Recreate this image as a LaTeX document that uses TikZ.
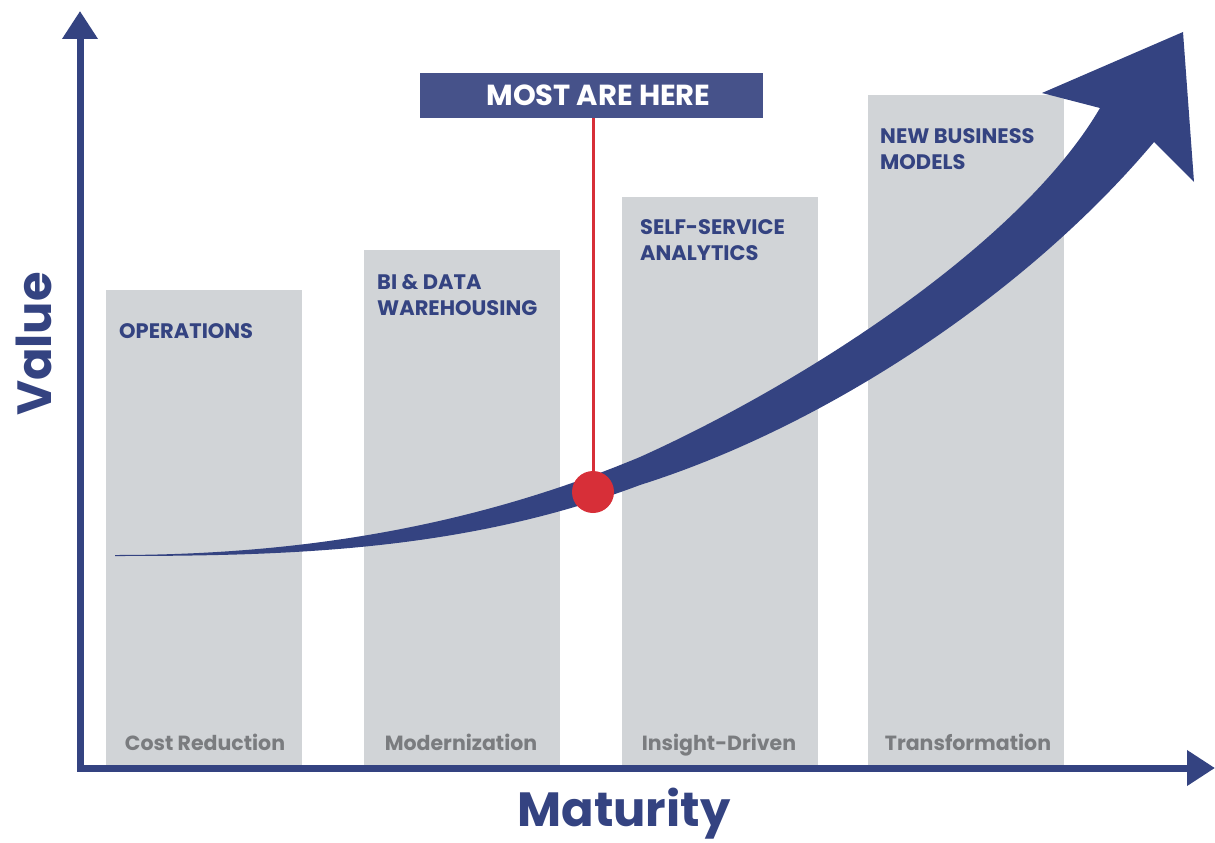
\documentclass[tikz,border=0pt]{standalone}
\usepackage{fontspec}
\setmainfont{Poppins}
\usetikzlibrary{arrows.meta,positioning}
\definecolor{navy}{HTML}{344381}
\definecolor{boxblue}{HTML}{46528A}
\definecolor{bargray}{HTML}{D1D4D7}
\definecolor{labelgray}{HTML}{7A7C7F}
\definecolor{dotred}{HTML}{D72F38}
\begin{document}
\begin{tikzpicture}[x=1pt,y=-1pt,
	bar/.style={fill=bargray, minimum width=196pt, anchor=south west, inner sep=0pt},
	title/.style={anchor=north west, align=left, text=navy, inner sep=0pt,
		font=\bfseries\fontsize{21}{26}\selectfont},
	stage/.style={anchor=base, text=labelgray, inner sep=0pt,
		font=\bfseries\fontsize{20.5}{24}\selectfont},
	axis/.style={navy, line width=7pt, line cap=rect, -{Triangle[length=28pt,width=34pt]}},
	big/.style={text=navy, inner sep=0pt, font=\bfseries\fontsize{48}{48}\selectfont}]
	\useasboundingbox (0,0) rectangle (1215,843);
	\node[bar, minimum height=475pt] at (106,765) (b1) {};
	\node[bar, minimum height=515pt] at (364,765) (b2) {};
	\node[bar, minimum height=568pt] at (622,765) (b3) {};
	\node[bar, minimum height=670pt] at (868,765) (b4) {};
	\node[title] at (119,323) (t1) {OPERATIONS};
	\node[title] at (377,274) (t2) {BI \& DATA\\WAREHOUSING};
	\node[title] at (640,219) (t3) {SELF-SERVICE\\ANALYTICS};
	\node[title] at (880,128) (t4) {NEW BUSINESS\\MODELS};
	\node[stage] at (205,750) (s1) {Cost Reduction};
	\node[stage] at (461,750) (s2) {Modernization};
	\node[stage] at (719,750) (s3) {Insight-Driven};
	\node[stage] at (968,750) (s4) {Transformation};
	\fill[navy] (115,555) .. controls (290,555) and (465,530) .. (640,457)
		.. controls (800,385) and (1020,245) .. (1100,108)
		-- (1042,93) -- (1183,32) -- (1194,182) -- (1154,142)
		.. controls (1030,290) and (830,425) .. (640,485)
		.. controls (465,551) and (290,556) .. (115,556) -- cycle;
	\node[fill=boxblue, minimum width=343pt, minimum height=45pt, inner sep=0pt,
		text=white, font=\bfseries\fontsize{29}{29}\selectfont] at (591.5,95.5) (here)
		{\hspace*{14pt}\raisebox{-2pt}{MOST ARE HERE}};
	\node[circle, fill=dotred, minimum size=42pt, inner sep=0pt] at (593,492) (dot) {};
	\draw[dotred, line width=3pt] (here.south -| dot) -- (dot.north);
	\coordinate (origin) at (80,768);
	\coordinate (ytip) at (80,11);
	\coordinate (xtip) at (1215,768);
	\draw[axis] (origin) -- (ytip);
	\draw[axis] (origin) -- (xtip);
	\node[big, rotate=90] at (34,344) (value) {Value};
	\node[big, anchor=base] at (624,826) (maturity) {Maturity};
\end{tikzpicture}
\end{document}
